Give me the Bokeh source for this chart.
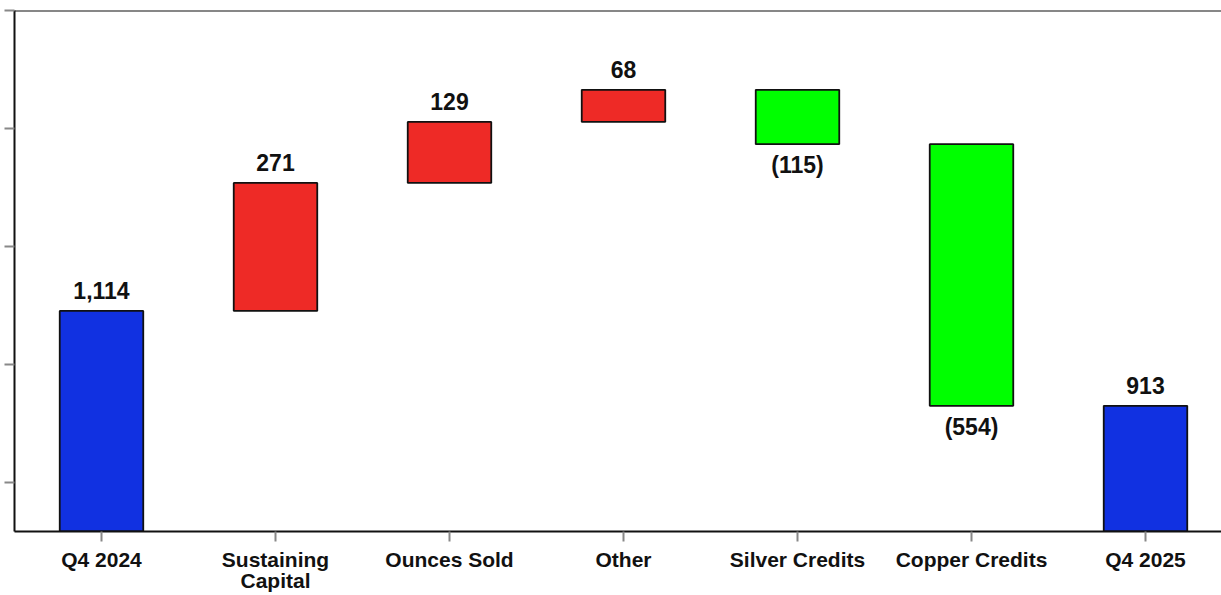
from bokeh.plotting import figure
from bokeh.models import ColumnDataSource, Range1d, FixedTicker, Span, CustomJSTickFormatter
from bokeh.core.properties import value
from bokeh.embed import file_html
from bokeh.resources import INLINE

# ---- data ----
categories = ["Q4 2024", "Sustaining\nCapital", "Ounces Sold", "Other",
              "Silver Credits", "Copper Credits", "Q4 2025"]
values = [1114, 271, 129, 68, -115, -554, 913]
kinds = ["total", "delta", "delta", "delta", "delta", "delta", "total"]
y_ticks = [750, 1000, 1250, 1500, 1750]
y_start, y_end = 647, 1750

BLUE, RED, GREEN = "#1131E1", "#EE2A26", "#00FF00"

# ---- waterfall geometry from data ----
xs, bottoms, tops, colors, labels = [], [], [], [], []
running = 0
for i, (v, k) in enumerate(zip(values, kinds)):
    if k == "total":
        b, t = y_start, v
        running = v
        c = BLUE
    else:
        b, t = (running, running + v) if v >= 0 else (running + v, running)
        running += v
        c = RED if v >= 0 else GREEN
    xs.append(i)
    bottoms.append(b)
    tops.append(t)
    colors.append(c)
    labels.append(f"{v:,}" if v >= 0 else f"({abs(v):,})")

src = ColumnDataSource(dict(x=xs, bottom=bottoms, top=tops, color=colors, label=labels))
pos_idx = [i for i, v in enumerate(values) if v >= 0]
neg_idx = [i for i, v in enumerate(values) if v < 0]
src_pos = ColumnDataSource(dict(x=[xs[i] for i in pos_idx], y=[tops[i] for i in pos_idx],
                                label=[labels[i] for i in pos_idx]))
src_neg = ColumnDataSource(dict(x=[xs[i] for i in neg_idx], y=[bottoms[i] for i in neg_idx],
                                label=[labels[i] for i in neg_idx]))

p = figure(width=1221, height=595, output_backend="svg", toolbar_location=None,
           x_range=Range1d(-0.5, -0.5 + 1207 / 174.0), y_range=Range1d(y_start, y_end),
           min_border_left=14, min_border_top=10, min_border_right=0, min_border_bottom=63)
p.outline_line_color = None
p.xgrid.visible = False
p.ygrid.visible = False
p.background_fill_color = "white"
p.border_fill_color = "white"

p.vbar(x="x", bottom="bottom", top="top", width=0.48, source=src,
       fill_color="color", line_color="#111111", line_width=1.8)

font = value("Liberation Sans")
p.text(x="x", y="y", text="label", source=src_pos, text_font=font, text_font_style="bold",
       text_font_size="23px", text_align="center", text_baseline="alphabetic",
       y_offset=-20, text_color="#111111")
p.text(x="x", y="y", text="label", source=src_neg, text_font=font, text_font_style="bold",
       text_font_size="23px", text_align="center", text_baseline="top",
       y_offset=8, text_color="#111111")

# top border line
p.add_layout(Span(location=y_end, dimension="width", line_color="#111111", line_width=2))

# x axis
p.xaxis.ticker = FixedTicker(ticks=list(range(len(categories))))
p.xaxis.major_label_overrides = {i: c for i, c in enumerate(categories)}
p.xaxis.major_label_text_font = "Liberation Sans"
p.xaxis.major_label_text_font_style = "bold"
p.xaxis.major_label_text_font_size = "21px"
p.xaxis.major_label_text_color = "#111111"
p.xaxis.major_label_text_line_height = 0.95
p.xaxis.major_label_standoff = 6
p.xaxis.axis_line_color = "#111111"
p.xaxis.axis_line_width = 2
p.xaxis.major_tick_line_color = "#888888"
p.xaxis.major_tick_line_width = 2
p.xaxis.major_tick_out = 10
p.xaxis.major_tick_in = 0
p.xaxis.minor_tick_line_color = None

# y axis (ticks, no labels)
p.yaxis.ticker = FixedTicker(ticks=y_ticks)
p.yaxis.formatter = CustomJSTickFormatter(code="return ''")
p.yaxis.major_label_standoff = 0
p.yaxis.axis_line_color = "#111111"
p.yaxis.axis_line_width = 2
p.yaxis.major_tick_line_color = "#888888"
p.yaxis.major_tick_line_width = 2
p.yaxis.major_tick_out = 10
p.yaxis.major_tick_in = 0
p.yaxis.minor_tick_line_color = None

open("out.html", "w").write(file_html(p, INLINE))
